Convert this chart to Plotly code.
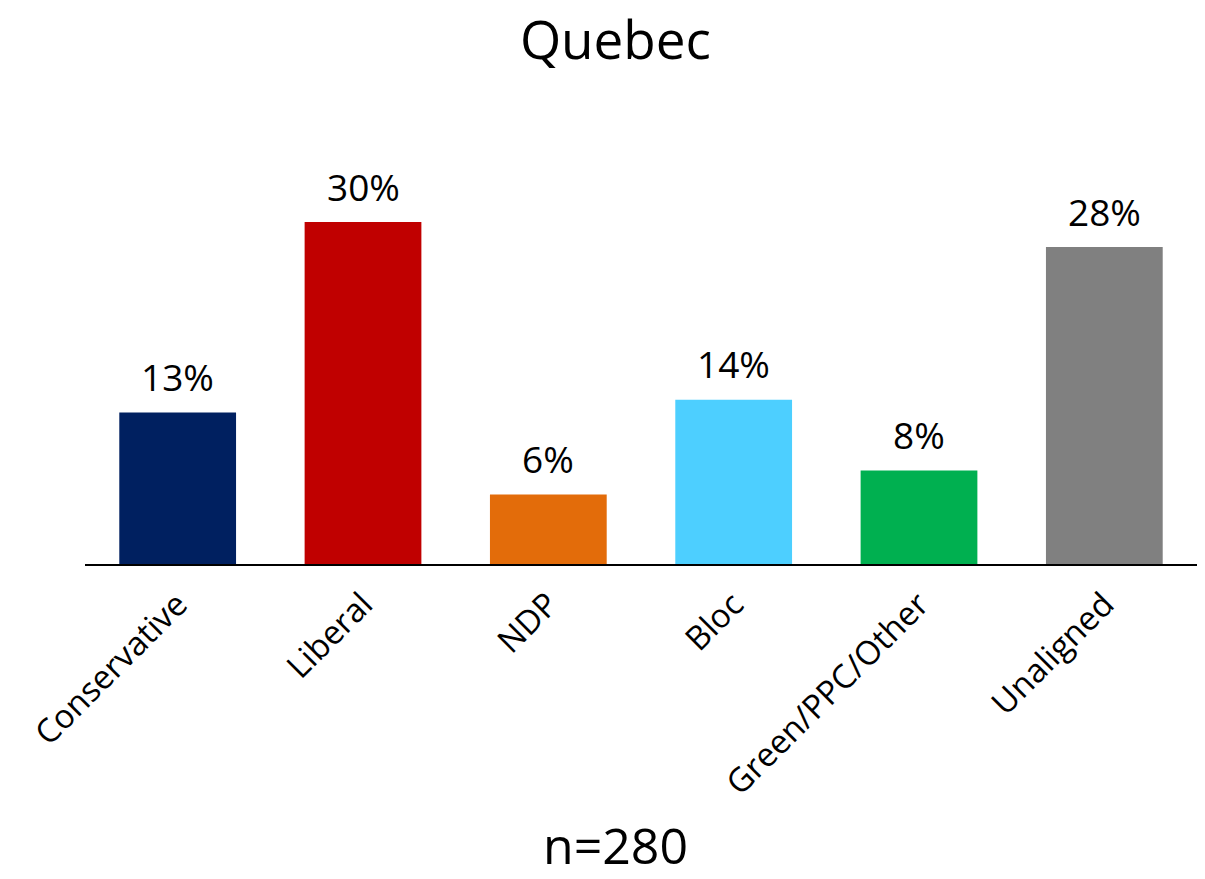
import plotly.graph_objects as go

categories = ["Conservative", "Liberal", "NDP", "Bloc", "Green/PPC/Other", "Unaligned"]
values = [13.3, 30.0, 6.1, 14.4, 8.2, 27.8]
labels = ["13%", "30%", "6%", "14%", "8%", "28%"]
colors = ["#002060", "#C00000", "#E36C0A", "#4DCFFF", "#00B050", "#808080"]

FONT = "Open Sans, Liberation Sans, sans-serif"

fig = go.Figure()
fig.add_trace(go.Bar(
    x=categories, y=values, marker=dict(color=colors, line=dict(width=0)),
    width=0.63, hoverinfo="skip",
))
for c, v, t in zip(categories, values, labels):
    fig.add_annotation(x=c, y=v, text=t, showarrow=False, yanchor="middle",
                       yshift=36, font=dict(size=37, color="black", family=FONT))

fig.add_annotation(text="n=280", xref="paper", yref="paper", x=0.477, y=-0.705,
                   xanchor="center", yanchor="middle", showarrow=False,
                   font=dict(size=50, color="black", family=FONT))

fig.update_layout(
    width=1205, height=879,
    margin=dict(l=77, r=16, t=157, b=323, autoexpand=False),
    paper_bgcolor="white", plot_bgcolor="white",
    title=dict(text="Quebec", xref="paper", x=0.477, xanchor="center",
               yref="container", y=1 - 32 / 879, yanchor="middle",
               font=dict(size=53, color="black", family=FONT)),
    showlegend=False,
)
fig.update_xaxes(showline=True, linecolor="black", linewidth=1.5, ticks="",
                 tickangle=-45, tickfont=dict(size=33, color="black", family=FONT),
                 showgrid=False, automargin=False, ticklabelstandoff=6)
fig.update_yaxes(range=[0, 35], visible=False, showgrid=False, zeroline=False,
                 automargin=False)

fig.write_html("out.html")
